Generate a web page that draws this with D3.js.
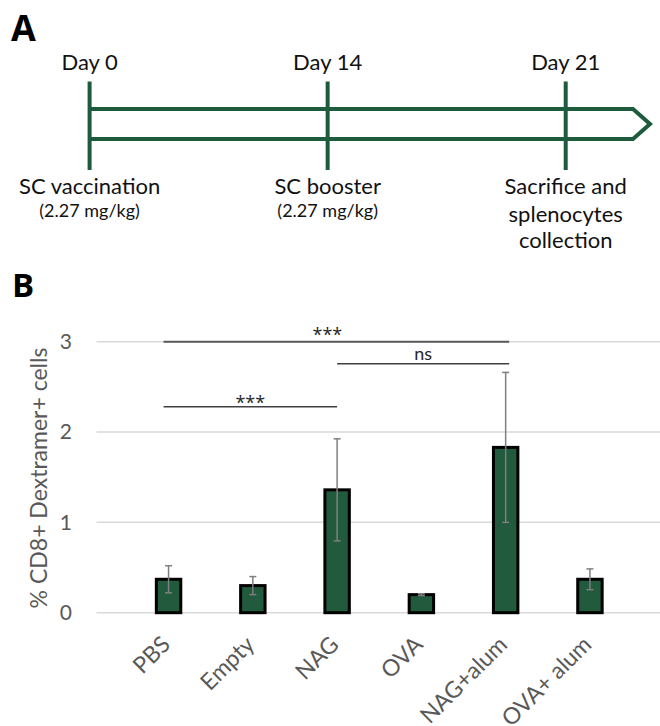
<!DOCTYPE html>
<html>
<head>
<meta charset="utf-8">
<script src="https://cdn.jsdelivr.net/npm/d3@7"></script>
<style>
  body { margin: 0; background: #fff; }
  svg { display: block; font-family: Lato, "Open Sans", sans-serif; }
</style>
</head>
<body>
<svg id="fig" width="660" height="726"></svg>
<script>
// panel A - timeline
var steps = ["Day 0", "Day 14", "Day 21"];
var stepNotes = [["SC vaccination"], ["SC booster"], ["Sacrifice and", "splenocytes", "collection"]];
var stepDoses = ["(2.27 mg/kg)", "(2.27 mg/kg)", ""];

// panel B - bar chart
var groups = ["PBS", "Empty", "NAG", "OVA", "NAG+alum", "OVA+ alum"];
var means = [0.37, 0.30, 1.36, 0.20, 1.83, 0.37];
var errs = [0.15, 0.10, 0.565, 0.01, 0.83, 0.115];
var yTicks = [0, 1, 2, 3];
// significance brackets: from group, to group, level, label
var sigFrom = ["PBS", "NAG", "PBS"];
var sigTo = ["NAG+alum", "NAG+alum", "NAG"];
var sigLevel = [3.0, 2.757, 2.28];
var sigText = ["***", "ns", "***"];

var green = "#1e5b3c";
var svg = d3.select("#fig");

// ---------- A ----------
svg.append("text")
    .attr("x", 11).attr("y", 41)
    .style("font-family", "'Open Sans', sans-serif")
    .style("font-weight", 700).style("font-size", "36px")
    .text("A");

var xs = d3.scalePoint().domain(steps).range([89.6, 565.7]);
var gA = svg.append("g");

// arrow body
var yTop = 109, yBot = 139, shoulder = 633, tip = 650;
gA.append("path")
    .attr("d", "M" + xs("Day 0") + "," + yTop + "H" + shoulder + "L" + tip + "," + (yTop + yBot) / 2 +
        "L" + shoulder + "," + yBot + "H" + xs("Day 0"))
    .attr("fill", "none")
    .attr("stroke", green)
    .attr("stroke-width", 4);

gA.selectAll(".tick-v").data(steps).enter().append("line")
    .attr("x1", d => xs(d)).attr("x2", d => xs(d))
    .attr("y1", 81.5).attr("y2", 170)
    .attr("stroke", green).attr("stroke-width", 4);

gA.selectAll(".day").data(steps).enter().append("text")
    .attr("x", d => xs(d)).attr("y", 70)
    .attr("text-anchor", "middle")
    .style("font-size", "22px").attr("fill", "#111")
    .text(d => d);

steps.forEach(function(s, i) {
    var lines = stepNotes[i];
    var lineY = [194, 222, 248];
    lines.forEach(function(t, j) {
        gA.append("text")
            .attr("x", xs(s)).attr("y", lineY[j])
            .attr("text-anchor", "middle")
            .style("font-size", "22px").attr("fill", "#111")
            .text(t);
    });
    if (stepDoses[i]) {
        gA.append("text")
            .attr("x", xs(s)).attr("y", 217)
            .attr("text-anchor", "middle")
            .style("font-size", "18px").attr("fill", "#111")
            .text(stepDoses[i]);
    }
});

// ---------- B ----------
svg.append("text")
    .attr("x", 12).attr("y", 297)
    .style("font-family", "'Open Sans', sans-serif")
    .style("font-weight", 700).style("font-size", "33px")
    .text("B");

var x = d3.scaleBand().domain(groups).range([96.5, 662]).padding(0.71);
var y = d3.scaleLinear().domain([0, 3]).range([612.7, 341.7]);

var gB = svg.append("g");

// gridlines
gB.selectAll(".grid").data(yTicks).enter().append("line")
    .attr("x1", 96.5).attr("x2", 660)
    .attr("y1", d => y(d)).attr("y2", d => y(d))
    .attr("stroke", "#d9d9d9").attr("stroke-width", 1.5);

// y axis labels
var yAxis = d3.axisLeft(y).tickValues(yTicks).tickSize(0).tickPadding(0).tickFormat(d3.format("d"));
var ya = gB.append("g").attr("transform", "translate(72,0)").call(yAxis);
ya.select(".domain").remove();
ya.selectAll("text")
    .style("font-family", "Lato, sans-serif")
    .style("font-size", "21px").attr("fill", "#595959");

gB.append("text")
    .attr("transform", "translate(47,478) rotate(-90)")
    .attr("text-anchor", "middle")
    .style("font-size", "23px").attr("fill", "#595959")
    .text("% CD8+ Dextramer+ cells");

// bars
gB.selectAll(".bar").data(groups).enter().append("rect")
    .attr("x", d => x(d))
    .attr("width", x.bandwidth())
    .attr("y", (d, i) => y(means[i]))
    .attr("height", (d, i) => y(0) - y(means[i]))
    .attr("fill", "#215a3d")
    .attr("stroke", "#000").attr("stroke-width", 3);

// error bars
var cx = d => x(d) + x.bandwidth() / 2;
var eb = gB.selectAll(".err").data(groups).enter().append("g").attr("stroke", "#7f7f7f").attr("stroke-width", 1.5);
eb.append("line")
    .attr("x1", cx).attr("x2", cx)
    .attr("y1", (d, i) => y(means[i] + errs[i]))
    .attr("y2", (d, i) => y(means[i] - errs[i]));
eb.append("line")
    .attr("x1", d => cx(d) - 3.5).attr("x2", d => cx(d) + 3.5)
    .attr("y1", (d, i) => y(means[i] + errs[i]))
    .attr("y2", (d, i) => y(means[i] + errs[i]));
eb.append("line")
    .attr("x1", d => cx(d) - 3.5).attr("x2", d => cx(d) + 3.5)
    .attr("y1", (d, i) => y(means[i] - errs[i]))
    .attr("y2", (d, i) => y(means[i] - errs[i]));

// x labels, rotated like the Excel category axis
gB.selectAll(".xl").data(groups).enter().append("text")
    .attr("transform", d => "translate(" + (cx(d) + 3) + ",646) rotate(-45)")
    .attr("text-anchor", "end")
    .style("font-size", "23px").attr("fill", "#595959")
    .text(d => d);

// significance
sigText.forEach(function(t, i) {
    var x1 = cx(sigFrom[i]) - (sigFrom[i] == "PBS" ? 5 : 0);
    var x2 = cx(sigTo[i]) + (sigTo[i] == "NAG+alum" ? 3.5 : 0);
    var yy = y(sigLevel[i]);
    gB.append("line")
        .attr("x1", x1).attr("x2", x2)
        .attr("y1", yy).attr("y2", yy)
        .attr("stroke", i == 0 ? "#595959" : "#404040")
        .attr("stroke-width", i == 0 ? 2 : 1.5);
    gB.append("text")
        .attr("x", (x1 + x2) / 2 - (i == 0 ? 9 : 0))
        .attr("y", t == "ns" ? yy - 4 : (i == 0 ? yy - 1 : yy + 2))
        .attr("text-anchor", "middle")
        .style("font-family", t == "ns" ? "Lato, sans-serif" : "'Open Sans', sans-serif")
        .style("font-size", "18px").attr("fill", "#262626")
        .text(t);
});
</script>
</body>
</html>
